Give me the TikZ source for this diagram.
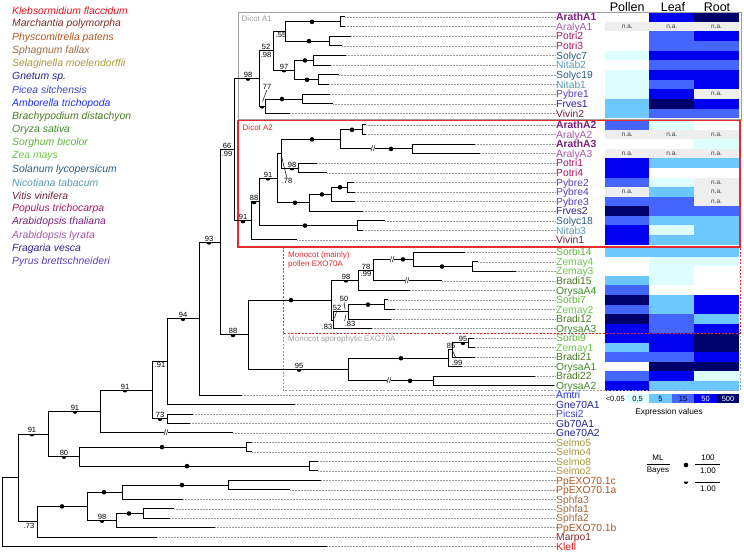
\documentclass[tikz,border=0pt]{standalone}
\usepackage{fontspec}
\setmainfont{Liberation Sans}
\usetikzlibrary{calc}
% species colours
\definecolor{cKlebs}{HTML}{E8141C}
\definecolor{cMarch}{HTML}{7F2A2A}
\definecolor{cPhysc}{HTML}{B0561E}
\definecolor{cSphag}{HTML}{9E6B3F}
\definecolor{cSelag}{HTML}{A8983A}
\definecolor{cGnet}{HTML}{1E2490}
\definecolor{cPicea}{HTML}{3D46C9}
\definecolor{cAmbor}{HTML}{1F2FF5}
\definecolor{cBrach}{HTML}{4A7A23}
\definecolor{cOryza}{HTML}{3F8A2A}
\definecolor{cSorgh}{HTML}{5FB33A}
\definecolor{cZea}{HTML}{6FC64A}
\definecolor{cSolan}{HTML}{2B5C7D}
\definecolor{cNicot}{HTML}{5B9AB3}
\definecolor{cVitis}{HTML}{702040}
\definecolor{cPopul}{HTML}{A5185F}
\definecolor{cAthal}{HTML}{7B1F7D}
\definecolor{cAlyr}{HTML}{A357A6}
\definecolor{cFrag}{HTML}{2F2190}
\definecolor{cPyrus}{HTML}{5B3FB8}
% expression colours
\definecolor{hW}{HTML}{FFFFFF}
\definecolor{hC}{HTML}{DDFFFF}
\definecolor{hL}{HTML}{6DC8FF}
\definecolor{hM}{HTML}{4466FF}
\definecolor{hB}{HTML}{0000F0}
\definecolor{hD}{HTML}{00006B}
\definecolor{hN}{HTML}{EEEEEE}
\definecolor{boxRed}{HTML}{E52B2B}
\definecolor{boxGray}{HTML}{9E9E9E}
\def\natest{hN}

\begin{document}
\begin{tikzpicture}[x=1pt, y=-1pt,
    branch/.style={line width=1pt, black},
    guide/.style={densely dotted, black!40, line width=0.5pt},
    fulldot/.style={circle, fill=black, inner sep=0pt, minimum size=4.6pt},
    halfdot/.pic={\fill (-2.4pt,0pt) arc[start angle=180, end angle=360, radius=2.4pt] -- cycle;},
    mlnum/.style={anchor=south, inner sep=0.8pt, font=\fontsize{7.5}{8}\selectfont},
    bynum/.style={anchor=north, inner sep=0.8pt, font=\fontsize{7.5}{8}\selectfont},
    numtxt/.style={inner sep=0pt, font=\fontsize{7.5}{8}\selectfont},
    leader/.style={line width=0.5pt, black},
    brk/.style={fill=white, inner sep=0.2pt, font=\fontsize{8}{8}\selectfont},
    leaf/.style={anchor=west, inner sep=0pt, text height=6.8pt, text depth=1.8pt, yshift=-1.2pt,
      font=\fontsize{10.3}{10}\selectfont},
    spname/.style={anchor=west, inner sep=0pt, font=\fontsize{10.4}{10}\selectfont\itshape},
    grouplab/.style={anchor=west, inner sep=0pt, font=\fontsize{8}{9}\selectfont},
    cell/.style={minimum width=44.8pt, minimum height=9.8pt, inner sep=0pt, text=black!75,
      font=\fontsize{6.5}{6.5}\selectfont},
    lgcell/.style={minimum width=22.8pt, minimum height=9pt, inner sep=0pt, font=\fontsize{7.5}{8}\selectfont},
    hdr/.style={inner sep=0pt, font=\fontsize{12.5}{13}\selectfont},
    lgd/.style={inner sep=0pt, font=\fontsize{8}{9}\selectfont}]
  \useasboundingbox (0,0) rectangle (744,553);

  % species key
  \foreach \sp/\col [count=\i from 0] in {Klebsormidium flaccidum/cKlebs, Marchantia polymorpha/cMarch,
      Physcomitrella patens/cPhysc, Sphagnum fallax/cSphag, Selaginella moelendorffii/cSelag,
      Gnetum sp./cGnet, Picea sitchensis/cPicea, Amborella trichopoda/cAmbor,
      Brachypodium distachyon/cBrach, Oryza sativa/cOryza, Sorghum bicolor/cSorgh, Zea mays/cZea,
      Solanum lycopersicum/cSolan, Nicotiana tabacum/cNicot, Vitis vinifera/cVitis,
      Populus trichocarpa/cPopul, Arabidopsis thaliana/cAthal, Arabidopsis lyrata/cAlyr,
      Fragaria vesca/cFrag, Pyrus brettschneideri/cPyrus}
    \node[spname, text=\col] (sp\i) at (12,{11+13.2*\i}) {\sp};

  % heatmap
  \node[hdr] (hpol) at (627.25,7) {Pollen};
  \node[hdr] (hlea) at (673,7) {Leaf};
  \node[hdr] (hroo) at (717,7) {Root};
  \foreach \yy/\pol/\lea/\roo [count=\k] in {17.0/hW/hB/hD, 26.7/hN/hN/hN, 36.3/hW/hM/hB, 46.0/hW/hM/hM,
      55.6/hC/hB/hB, 65.3/hW/hM/hM, 74.9/hC/hB/hB, 84.6/hC/hM/hB, 94.2/hC/hB/hN, 103.9/hL/hD/hB,
      113.5/hL/hM/hM, 125.0/hM/hC/hW, 134.6/hN/hN/hN, 144.2/hW/hW/hC, 153.7/hN/hN/hN,
      163.3/hB/hL/hL, 172.9/hB/hW/hW, 182.5/hM/hC/hN, 192.1/hN/hL/hN, 201.6/hM/hM/hN,
      211.2/hD/hM/hM, 220.8/hM/hL/hL, 230.4/hB/hC/hL, 240.0/hB/hL/hL,
      252.3/hL/hL/hL, 261.8/hW/hC/hC, 271.3/hW/hC/hW, 280.9/hL/hC/hW, 290.4/hM/hW/hW,
      299.9/hD/hL/hB, 309.4/hM/hL/hB, 319.0/hD/hM/hL, 328.5/hB/hM/hB, 338.0/hB/hB/hD,
      347.5/hL/hB/hD, 357.0/hM/hM/hB, 366.6/hW/hD/hD, 376.1/hM/hB/hC, 385.6/hB/hL/hL}{
    \node[cell, fill=\pol] (hp\k) at (627.25,\yy) {\ifx\pol\natest n.a.\fi};
    \node[cell, fill=\lea] (hl\k) at (671.75,\yy) {\ifx\lea\natest n.a.\fi};
    \node[cell, fill=\roo] (hr\k) at (716.5,\yy) {\ifx\roo\natest n.a.\fi};
  }

  % group boxes
  \draw[boxGray, line width=1pt] (238,13) rectangle (741,119.3);
  \draw[boxGray, line width=0.9pt, dash pattern=on 2pt off 1.5pt] (283,333.3) rectangle (740,390.6);
  \draw[boxRed, line width=0.9pt, dash pattern=on 2pt off 1.5pt] (283,247) rectangle (740,333.3);
  \draw[boxRed, line width=1.1pt] (238,120.5) rectangle (740,247);
  \node[grouplab, text=boxGray] (gA1) at (241.5,18.3) {Dicot A1};
  \node[grouplab, text=boxRed] (gA2) at (242.5,127.3) {Dicot A2};
  \node[grouplab, text=boxRed, align=left] (gMp) at (288,260) {Monocot (mainly)\\pollen EXO70A};
  \node[grouplab, text=boxGray] (gMs) at (288,339.5) {Monocot sporophytic EXO70A};

  % inner nodes of the tree
  \coordinate (nroot) at (2,512.3);
  \coordinate (n18) at (18,477.9);
  \coordinate (n48) at (48,434.05);
  \coordinate (n100) at (100,411.5);
  \coordinate (n152) at (152,390.15);
  \coordinate (n167) at (167,361.6);
  \coordinate (n167b) at (167,418.7);
  \coordinate (n199) at (199,318.7);
  \coordinate (n220) at (220,242.35);
  \coordinate (n234) at (234,149.8);
  \coordinate (n259) at (259,78.55);
  \coordinate (n273) at (273,50.8);
  \coordinate (n285) at (285,31.5);
  \coordinate (n340a) at (340,21.85);
  \coordinate (n329) at (329,41.15);
  \coordinate (n294) at (294,70.1);
  \coordinate (n313) at (313,60.45);
  \coordinate (n318) at (318,79.75);
  \coordinate (n265) at (265,106.3);
  \coordinate (n302) at (302,99.05);
  \coordinate (n251) at (251,221);
  \coordinate (n259b) at (259,201.95);
  \coordinate (n277) at (277,178.3);
  \coordinate (n281) at (281,153.75);
  \coordinate (n340) at (340,139.4);
  \coordinate (n362) at (362,129.8);
  \coordinate (n412) at (412,148.95);
  \coordinate (n298) at (298,168.1);
  \coordinate (n309) at (309,202.8);
  \coordinate (n331) at (331,194.45);
  \coordinate (n347) at (347,187.3);
  \coordinate (n357) at (357,225.6);
  \coordinate (n248) at (248,334.9);
  \coordinate (n332) at (331,300.2);
  \coordinate (n358) at (358,280.3);
  \coordinate (n373) at (373,270.15);
  \coordinate (n413) at (413,259.4);
  \coordinate (n472) at (472,266.55);
  \coordinate (n333) at (333.5,320.15);
  \coordinate (n348b) at (348,311.8);
  \coordinate (n384) at (384,304.65);
  \coordinate (n348c) at (348,369.55);
  \coordinate (n448) at (448,358.25);
  \coordinate (n452) at (452,349.9);
  \coordinate (n468) at (468,342.75);
  \coordinate (n433) at (433,380.85);
  \coordinate (n79) at (79,456.6);
  \coordinate (n246) at (246,447.15);
  \coordinate (n309b) at (309,466.1);
  \coordinate (n37) at (37,521.8);
  \coordinate (n87) at (87,506.4);
  \coordinate (n122) at (122,492.2);
  \coordinate (n228) at (228,485.05);
  \coordinate (n116) at (116,520.6);
  \coordinate (n143) at (143,513.5);

  \foreach \a/\b in {nroot/n18, n18/n48, n18/n37, n48/n100, n48/n79, n100/n152, n152/n167, n152/n167b,
      n167/n199, n199/n220, n220/n234, n220/n248, n234/n259, n234/n251, n259/n273, n259/n265,
      n273/n285, n273/n294, n285/n340a, n285/n329, n294/n313, n294/n318, n265/n302,
      n251/n259b, n259b/n277, n259b/n357, n277/n281, n277/n309, n281/n340, n281/n298,
      n340/n362, n340/n412, n309/n331, n331/n347, n248/n332, n248/n348c, n332/n358, n332/n333,
      n358/n373, n373/n413, n413/n472, n333/n348b, n348b/n384, n348c/n448, n348c/n433,
      n448/n452, n452/n468, n79/n246, n79/n309b, n37/n87, n87/n122, n87/n116, n122/n228, n116/n143}
    \draw[branch] (\a) |- (\b);

  % leaves
  \foreach \id/\nm/\yy/\tx/\pa/\col/\fw in {
      L1/ArathA1/17.0/345/n340a/cAthal/\bfseries, L2/AralyA1/26.7/345/n340a/cAlyr/\mdseries,
      L3/Potri2/36.3/351/n329/cPopul/\mdseries, L4/Potri3/46.0/342/n329/cPopul/\mdseries,
      L5/Solyc7/55.6/346/n313/cSolan/\mdseries, L6/Nitab2/65.3/331/n313/cNicot/\mdseries,
      L7/Solyc19/74.9/339/n318/cSolan/\mdseries, L8/Nitab1/84.6/329/n318/cNicot/\mdseries,
      L9/Pybre1/94.2/330/n302/cPyrus/\mdseries, L10/Frves1/103.9/333/n302/cFrag/\mdseries,
      L11/Vivin2/113.5/290/n265/cVitis/\mdseries,
      L12/ArathA2/125.0/366/n362/cAthal/\bfseries, L13/AralyA2/134.6/366/n362/cAlyr/\mdseries,
      L14/ArathA3/144.2/475/n412/cAthal/\bfseries, L15/AralyA3/153.7/480/n412/cAlyr/\mdseries,
      L16/Potri1/163.3/317/n298/cPopul/\mdseries, L17/Potri4/172.9/327/n298/cPopul/\mdseries,
      L18/Pybre2/182.5/354/n347/cPyrus/\mdseries, L19/Pybre4/192.1/355/n347/cPyrus/\mdseries,
      L20/Pybre3/201.6/355/n331/cPyrus/\mdseries, L21/Frves2/211.2/363/n309/cFrag/\mdseries,
      L22/Solyc18/220.8/385/n357/cSolan/\mdseries, L23/Nitab3/230.4/363/n357/cNicot/\mdseries,
      L24/Vivin1/240.0/297/n251/cVitis/\mdseries,
      L25/Sorbi14/252.3/465/n413/cSorgh/\mdseries, L26/Zemay4/261.8/478/n472/cZea/\mdseries,
      L27/Zemay3/271.3/516/n472/cZea/\mdseries, L28/Bradi15/280.9/442/n373/cBrach/\mdseries,
      L29/OrysaA4/290.4/410/n358/cOryza/\mdseries, L30/Sorbi7/299.9/388/n384/cSorgh/\mdseries,
      L31/Zemay2/309.4/395/n384/cZea/\mdseries, L32/Bradi12/319.0/391/n348b/cBrach/\mdseries,
      L33/OrysaA3/328.5/372/n333/cOryza/\mdseries, L34/Sorbi9/338.0/474/n468/cSorgh/\mdseries,
      L35/Zemay1/347.5/475/n468/cZea/\mdseries, L36/Bradi21/357.0/475/n452/cBrach/\mdseries,
      L37/OrysaA1/366.6/462/n448/cOryza/\mdseries, L38/Bradi22/376.1/535/n433/cBrach/\mdseries,
      L39/OrysaA2/385.6/554/n433/cOryza/\mdseries,
      L40/Amtri/395.0/242/n199/cAmbor/\mdseries, L41/Gne70A1/404.5/295/n167/cGnet/\mdseries,
      L42/Picsi2/414.0/193/n167b/cPicea/\mdseries, L43/Gb70A1/423.4/190/n167b/cGnet/\mdseries,
      L44/Gne70A2/432.9/233/n100/cGnet/\mdseries, L45/Selmo5/442.4/252/n246/cSelag/\mdseries,
      L46/Selmo4/451.9/252/n246/cSelag/\mdseries, L47/Selmo8/461.4/318/n309b/cSelag/\mdseries,
      L48/Selmo2/470.8/318/n309b/cSelag/\mdseries, L49/PpEXO70.1c/480.3/321/n228/cPhysc/\mdseries,
      L50/PpEXO70.1a/489.8/290/n228/cPhysc/\mdseries, L51/Sphfa3/499.3/183/n122/cSphag/\mdseries,
      L52/Sphfa1/508.8/174/n143/cSphag/\mdseries, L53/Sphfa2/518.2/170/n143/cSphag/\mdseries,
      L54/PpEXO70.1b/527.7/215/n116/cPhysc/\mdseries, L55/Marpo1/537.2/157/n37/cMarch/\mdseries,
      L56/Klefl/546.7/327/nroot/cKlebs/\mdseries}{
    \node[leaf, text=\col] (\id) at (556,\yy) {\fw\nm};
    \draw[branch] (\pa) |- (\tx,\yy);
    \draw[guide] (\tx,\yy) -- (\id.west |- \tx,\yy);
  }

  % long branches cut short
  \foreach \xx/\yy [count=\k] in {373/148.95, 392/259.4, 407/280.9, 389/380.85, 166/432.9}
    \node[brk] (cut\k) at (\xx,\yy) {//};

  % support 100/1.00
  \foreach \xx/\yy [count=\k] in {312/21.85, 309/41.15, 305/60.45, 307/79.75, 282/99.05,
      312/139.4, 352/129.8, 391/148.95, 295/202.8, 322/194.45, 340/187.3, 305/225.6,
      291/300.2, 403/259.4, 442/266.55, 368/304.65, 401/358.25, 410/380.85,
      162/447.15, 187/466.1, 62/506.4, 104/492.2, 182/485.05, 129/513.5}
    \node[fulldot] (fd\k) at (\xx,\yy) {};

  % support ML/1.00
  \foreach \xx/\yy/\v [count=\k] in {248/78.55/98, 284/70.1/97, 243/221/91, 254/201.95/88,
      268/178.3/91, 292/168.1/98, 346/280.3/98, 299/369.55/95, 463/342.75/95, 209/242.35/93,
      233/334.9/88, 183/318.7/94, 160/418.7/73, 125/390.15/91, 75/411.5/91, 64/456.6/80,
      32/434.05/91, 102/520.6/98}{
    \pic at (\xx,\yy) {halfdot};
    \node[mlnum] (ml\k) at (\xx,\yy) {\v};
  }
  \pic at (262,106.3) {halfdot};

  % support ML/Bayes
  \node[mlnum] (ml66) at (227,149.8) {66};
  \node[bynum] (by66) at (227,149.8) {.99};
  \node[mlnum] (ml52) at (266,50.8) {52};
  \node[bynum] (by52) at (266,50.8) {.98};
  \node[mlnum] (ml78) at (366,270.15) {78};
  \node[bynum] (by78) at (366,270.15) {.99};
  \node[bynum] (by55) at (281,31.5) {.55};
  \node[bynum] (by91) at (160,361.6) {.91};
  \node[bynum] (by73) at (29,521.8) {.73};

  % labels set off the branch
  \node[numtxt] (t77) at (267,87) {77};
  \draw[leader] (t77.south) -- (262.5,101.5);
  \node[numtxt] (t78) at (287,181) {.78};
  \draw[leader] (t78.north) -- (281.5,156.5);
  \node[numtxt] (t52) at (337,307.5) {52};
  \draw[leader] (t52.south) -- (334.5,318);
  \node[numtxt] (t83a) at (327,327) {.83};
  \node[numtxt] (t50) at (344,299) {50};
  \draw[leader] (t50.south) -- (345,309.5);
  \node[numtxt] (t83b) at (350,324) {.83};
  \draw[leader] (t83b.north west) -- (346,314.5);
  \node[numtxt] (t85) at (451,345.5) {85};
  \draw[leader] (452.5,351) -- (455.5,357);
  \node[numtxt] (t99) at (457,363) {.99};

  % colour key
  \node[lgd, anchor=east, font=\fontsize{7.5}{8}\selectfont] (k0) at (625,398.5) {<0.05};
  \foreach \xx/\cc/\vv/\tc [count=\k] in {637.5/hC/0.5/black, 660.5/hL/5/black, 683/hM/15/black,
      705.5/hB/50/white, 728/hD/500/white}
    \node[lgcell, fill=\cc, text=\tc] (k\k) at (\xx,398.5) {\vv};
  \node[lgd, font=\fontsize{8.3}{9}\selectfont] (kt) at (669,412) {Expression values};

  % support key
  \node[lgd] (kml) at (658,457.5) {ML};
  \draw[line width=0.5pt] (647,464) -- (670,464);
  \node[lgd] (kby) at (658,470.5) {Bayes};
  \node[fulldot] (kdot) at (686,465) {};
  \node[lgd] (k100) at (708,457.5) {100};
  \draw[line width=0.5pt] (695,464) -- (720,464);
  \node[lgd] (k1a) at (708,471) {1.00};
  \pic at (686,481.5) {halfdot};
  \draw[line width=0.5pt] (695,482) -- (720,482);
  \node[lgd] (k1b) at (708,489) {1.00};
\end{tikzpicture}
\end{document}
